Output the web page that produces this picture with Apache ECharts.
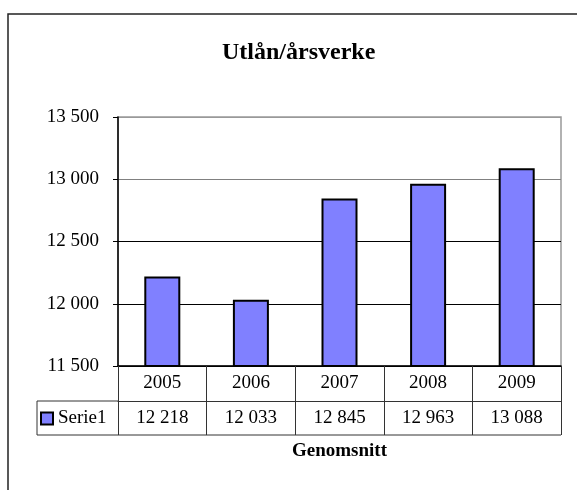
<!DOCTYPE html>
<html>
<head>
<meta charset="utf-8">
<script src="https://cdn.jsdelivr.net/npm/echarts@6/dist/echarts.min.js"></script>
<style>
  html, body { margin: 0; padding: 0; background: #fff; }
  #chart { width: 577px; height: 490px; }
</style>
</head>
<body>
<div id="chart"></div>
<script>
// data
const years = ["2005", "2006", "2007", "2008", "2009"];
const serie1 = [12218, 12033, 12845, 12963, 13088];
const yTicks = [11500, 12000, 12500, 13000, 13500];

const font = "'Liberation Serif', 'Times New Roman', serif";

function fmt(v) {
  return String(v).replace(/\B(?=(\d{3})+(?!\d))/g, " ");
}

const chart = echarts.init(document.getElementById("chart"));

chart.setOption({
  backgroundColor: "#fff",
  animation: false,
  title: {
    text: "Utlån/årsverke",
    left: 222,
    top: 41,
    padding: 0,
    textStyle: {
      fontFamily: font,
      fontWeight: "bold",
      fontSize: 24,
      lineHeight: 24,
      color: "#000"
    }
  },
  legend: {
    data: ["Serie1"],
    left: 40,
    top: 409,
    padding: 0,
    itemWidth: 12,
    itemHeight: 12,
    itemGap: 5,
    icon: "rect",
    textStyle: {
      fontFamily: font,
      fontSize: 19,
      lineHeight: 19,
      color: "#000"
    }
  },
  grid: {
    left: 118,
    top: 117,
    width: 443,
    height: 249,
    show: true,
    borderColor: "#999",
    borderWidth: 1.5,
    backgroundColor: "#fff"
  },
  xAxis: [
    {
      type: "category",
      data: years,
      position: "bottom",
      axisLine: { lineStyle: { color: "#000", width: 1.5 } },
      axisTick: {
        show: true,
        interval: 0,
        length: 69,
        lineStyle: { color: "#333", width: 1 }
      },
      axisLabel: {
        interval: 0,
        margin: 0,
        fontFamily: font,
        fontSize: 19,
        lineHeight: 35,
        color: "#000"
      },
      splitLine: { show: false }
    },
    {
      type: "category",
      data: serie1.map(fmt),
      position: "bottom",
      offset: 35,
      axisLine: { lineStyle: { color: "#333", width: 1 } },
      axisTick: { show: false },
      axisLabel: {
        interval: 0,
        margin: 0,
        fontFamily: font,
        fontSize: 19,
        lineHeight: 34,
        color: "#000"
      },
      name: "Genomsnitt",
      nameLocation: "middle",
      nameGap: 41,
      nameTextStyle: {
        fontFamily: font,
        fontWeight: "bold",
        fontSize: 19,
        lineHeight: 19,
        color: "#000"
      }
    }
  ],
  yAxis: {
    type: "value",
    min: yTicks[0],
    max: yTicks[yTicks.length - 1],
    interval: 500,
    axisLine: { show: true, lineStyle: { color: "#000", width: 1.5 } },
    axisTick: { show: true, length: 5, lineStyle: { color: "#000" } },
    axisLabel: {
      margin: 19,
      fontFamily: font,
      fontSize: 19,
      color: "#000",
      formatter: fmt
    },
    splitLine: {
      show: true,
      lineStyle: { color: ["#000", "#000", "#000", "#808080", "#999"], width: 1 }
    }
  },
  series: [
    {
      name: "Serie1",
      type: "bar",
      data: serie1,
      barWidth: 36,
      itemStyle: {
        color: "#8080ff",
        borderColor: "#000",
        borderWidth: 2
      }
    }
  ],
  graphic: [
    // outer chart frame (runs off the right/bottom edge in the reference)
    {
      type: "rect",
      shape: { x: 8, y: 14, width: 620, height: 600 },
      style: { fill: null, stroke: "#222", lineWidth: 1.5 },
      silent: true
    },
    // legend cell of the data table
    {
      type: "polyline",
      shape: { points: [[118, 401], [37, 401], [37, 435], [561, 435]] },
      style: { fill: null, stroke: "#333", lineWidth: 1 },
      silent: true
    }
  ]
});
</script>
</body>
</html>
